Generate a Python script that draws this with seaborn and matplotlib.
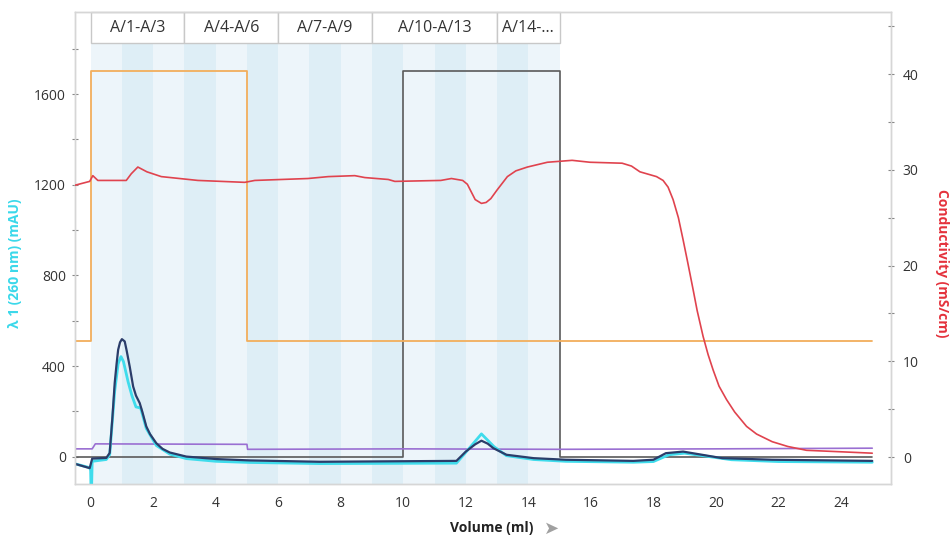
import matplotlib
matplotlib.use("Agg")
import matplotlib.pyplot as plt
import matplotlib.transforms as mtransforms
from matplotlib.patches import Rectangle
from matplotlib.ticker import MultipleLocator
import numpy as np
import pandas as pd
import seaborn as sns

# ---------------- data ----------------
uv260_x = [-0.5, -0.03, 0.0, 0.02, 0.05, 0.5, 0.61, 0.77, 0.88, 0.97, 1.05, 1.2, 1.32, 1.45,
           1.6, 1.78, 2.1, 2.53, 3.06, 4.02, 5.09, 7.33, 11.7, 12.0, 12.5, 12.9, 13.3, 14.17,
           15.2, 17.36, 18.0, 18.5, 19.0, 20.5, 22.0, 25.0]
uv260_y = [-31, -48, -60, -200, -20, -12, 10, 290, 410, 442, 420, 330, 270, 220,
           215, 125, 50, 12, -8, -20, -25, -30, -28, 20, 101, 45, 5, -12,
           -20, -24, -21, 9, 16, -13, -21, -24]

uv280_x = [-0.5, -0.03, 0.05, 0.5, 0.61, 0.7, 0.77, 0.83, 0.88, 0.94, 1.0, 1.09, 1.15, 1.25,
           1.36, 1.45, 1.57, 1.65, 1.78, 1.9, 2.1, 2.3, 2.53, 3.06, 4.02, 5.09, 7.33, 11.7,
           12.0, 12.3, 12.5, 12.7, 12.88, 13.3, 14.17, 15.2, 17.36, 18.0, 18.4, 18.95, 20.2,
           21.8, 25.0]
uv280_y = [-31, -50, -8, -5, 17, 180, 326, 410, 472, 505, 519, 509, 470, 398,
           310, 270, 237, 200, 134, 100, 60, 35, 19, 1, -10, -16, -22, -18,
           23, 55, 71, 58, 38, 9, -6, -13, -18, -13, 16, 23, -6,
           -13, -18]

cond_x = [-0.5, -0.03, 0.07, 0.23, 1.14, 1.3, 1.51, 1.8, 2.26, 3.43, 4.93, 5.25, 6.95, 7.6,
          8.45, 8.77, 9.52, 9.73, 11.2, 11.54, 11.9, 12.05, 12.3, 12.5, 12.65, 12.8, 13.0,
          13.33, 13.6, 13.97, 14.61, 15.4, 15.97, 17.0, 17.3, 17.57, 18.1, 18.31, 18.47,
          18.63, 18.8, 18.95, 19.1, 19.27, 19.4, 19.59, 19.75, 19.91, 20.1, 20.34, 20.6,
          20.98, 21.3, 21.8, 22.3, 22.9, 23.97, 25.0]
cond_y = [28.4, 28.8, 29.4, 28.9, 28.9, 29.6, 30.3, 29.8, 29.3, 28.9, 28.7, 28.9, 29.1, 29.3,
          29.4, 29.2, 29.0, 28.8, 28.9, 29.1, 28.9, 28.5, 26.9, 26.5, 26.6, 27.0, 27.9,
          29.3, 29.9, 30.3, 30.8, 31.0, 30.8, 30.7, 30.4, 29.8, 29.3, 28.9, 28.2,
          26.9, 25.0, 22.7, 20.3, 17.5, 15.3, 12.6, 10.7, 9.1, 7.4, 6.0, 4.7,
          3.2, 2.4, 1.6, 1.1, 0.7, 0.55, 0.4]

pressure_x = [-0.5, 0.05, 0.15, 5.0, 5.02, 10.0, 15.0, 20.0, 25.0]
pressure_y = [35, 35, 57, 55, 33, 35, 33, 35, 38]

inject_x = [-0.5, 0.0, 0.0, 5.0, 5.0, 25.0]
inject_y = [510, 510, 1700, 1700, 510, 510]

valve_x = [-0.5, 10.0, 10.0, 15.0, 15.0, 25.0]
valve_y = [0, 0, 1700, 1700, 0, 0]

fraction_labels = ["A/1-A/3", "A/4-A/6", "A/7-A/9", "A/10-A/13", "A/14-..."]
fraction_edges = [0, 3, 6, 9, 13, 15]
fraction_ticks = list(range(0, 16))

# ---------------- style ----------------
sns.set_style("white")
plt.rcParams["font.family"] = ["Open Sans", "DejaVu Sans"]

fig = plt.figure(figsize=(9.5, 5.39), dpi=100)
ax = fig.add_axes([75 / 950, 55 / 539, 816 / 950, 472 / 539])
ax2 = ax.twinx()

strip_y = 0.934  # axes fraction where the fraction-label strip starts

# fraction shading stripes
shades = ["#edf5fa", "#deeef6"]
for i in range(len(fraction_ticks) - 1):
    ax.axvspan(fraction_ticks[i], fraction_ticks[i + 1], ymin=0, ymax=strip_y,
               color=shades[i % 2], lw=0, zorder=0)

# fraction label boxes
trans = mtransforms.blended_transform_factory(ax.transData, ax.transAxes)
for lab, a, b in zip(fraction_labels, fraction_edges[:-1], fraction_edges[1:]):
    ax.add_patch(Rectangle((a, strip_y), b - a, 1 - strip_y, transform=trans,
                           facecolor="white", edgecolor="#c8c8c8", lw=1, zorder=1,
                           clip_on=False))
    ax.text((a + b) / 2, (strip_y + 1) / 2, lab, transform=trans, ha="center",
            va="center", fontsize=11.5, color="#333333", zorder=2)

def line(axis, xs, ys, color, lw, z):
    df = pd.DataFrame({"x": xs, "y": ys})
    sns.lineplot(data=df, x="x", y="y", ax=axis, color=color, lw=lw,
                 estimator=None, sort=False, zorder=z, legend=False)

line(ax, valve_x, valve_y, "#5a5a5a", 1.2, 3)
line(ax, inject_x, inject_y, "#f2ae5c", 1.3, 3)
line(ax, pressure_x, pressure_y, "#9a6fd2", 1.2, 4)
line(ax, uv260_x, uv260_y, "#3fdcec", 2.0, 5)
line(ax, uv280_x, uv280_y, "#2b3d6a", 1.6, 6)
line(ax2, cond_x, cond_y, "#e0434e", 1.2, 7)

# ---------------- axes ----------------
ax.set_xlim(-0.5, 25.6)
ax.set_ylim(-120, 1962)
ax2.set_ylim(-2.82, 46.5)

ax.xaxis.set_major_locator(MultipleLocator(2))
ax.xaxis.set_minor_locator(MultipleLocator(1))
ax.yaxis.set_major_locator(MultipleLocator(400))
ax.yaxis.set_minor_locator(MultipleLocator(200))
ax2.set_yticks([0, 10, 20, 30, 40])
ax2.yaxis.set_minor_locator(MultipleLocator(5))

for a in (ax, ax2):
    a.tick_params(which="both", direction="inout", color="#888888", labelcolor="#333333",
                  labelsize=10)
    a.tick_params(which="both", length=5, width=0.8)
    for s in a.spines.values():
        s.set_color("#d6d6d6")
        s.set_linewidth(1)
ax.tick_params(axis="x", pad=6)
ax2.tick_params(axis="y", pad=6)
ax.tick_params(axis="y", pad=4)

ax.set_xlabel("")
ax.set_ylabel("λ 1 (260 nm) (mAU)", color="#3ad8ea", fontsize=10, fontweight="bold")
ax.yaxis.set_label_coords(-0.065, 0.468)
ax2.set_ylabel("Conductivity (mS/cm)", color="#e4323c", fontsize=10, fontweight="bold",
               rotation=270, va="center")
ax2.yaxis.set_label_coords(1.063, 0.468)

fig.text(492 / 950, 1 - 528 / 539, "Volume (ml)", ha="center", va="center",
         fontsize=10, fontweight="bold", color="#222222")
fig.text(552 / 950, 1 - 529 / 539, "➤", ha="center", va="center", fontsize=13,
         color="#a0a0a0", family=["DejaVu Sans"])

fig.savefig("out.png", dpi=100)
